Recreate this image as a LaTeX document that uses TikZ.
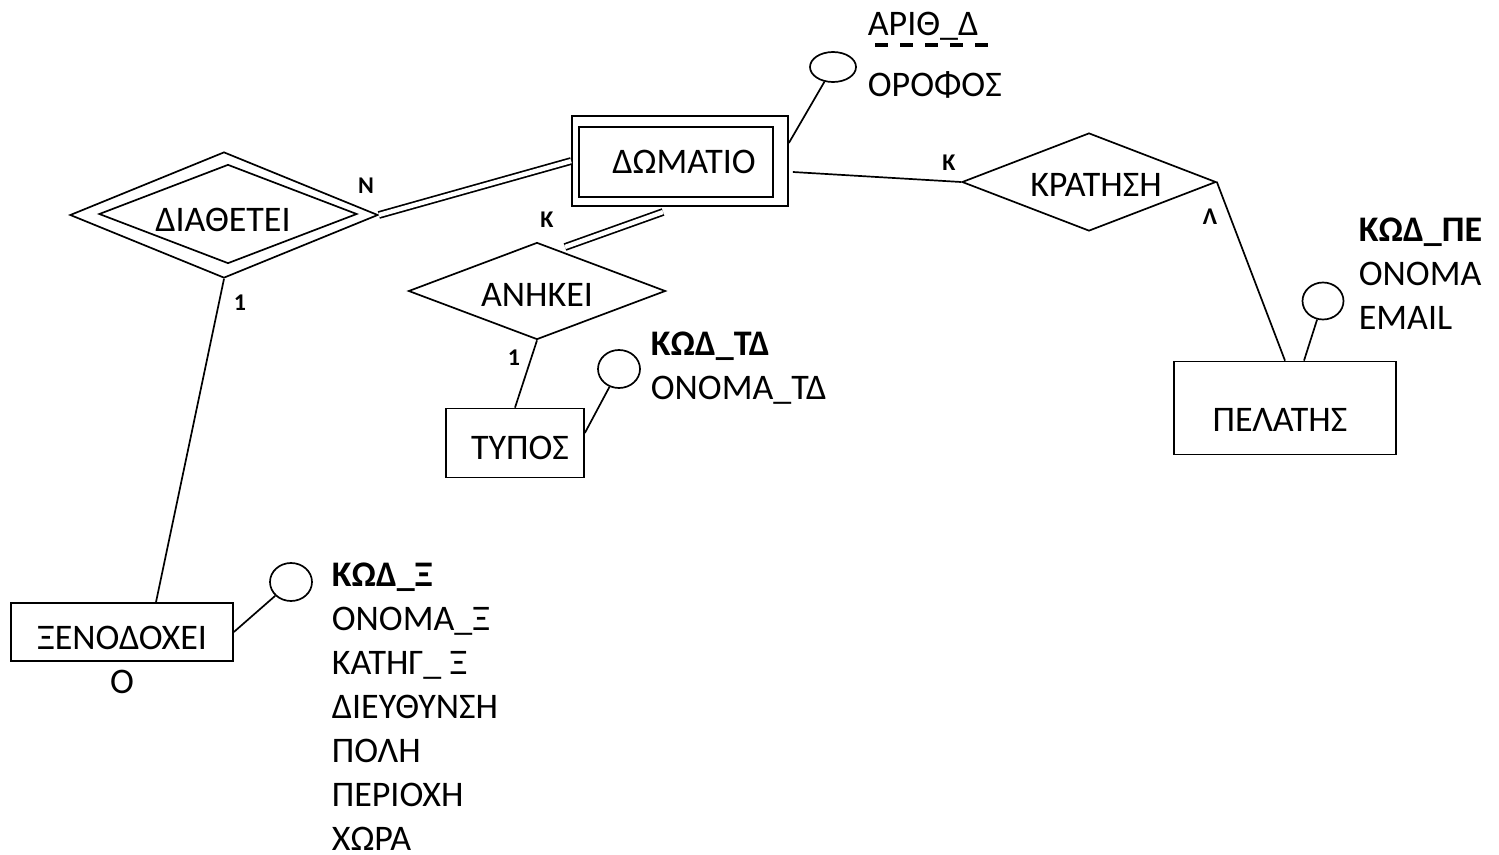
\documentclass[tikz,border=0pt]{standalone}
\usepackage{fontspec}
\setmainfont{Carlito}
\usetikzlibrary{shapes.geometric}

\begin{document}
\begin{tikzpicture}[x=1pt,y=-1pt,line width=1.7pt,
  entity/.style={draw,rectangle,inner sep=0pt},
  relation/.style={draw,diamond,inner sep=0pt},
  attr/.style={draw,ellipse,inner sep=0pt,minimum width=42pt,minimum height=38pt},
  txt/.style={inner sep=0pt,font=\fontsize{36}{44}\selectfont},
  attrlist/.style={txt,align=left,anchor=north west},
  card/.style={inner sep=0pt,font=\fontsize{24}{28}\selectfont\bfseries},
  dbl/.style={double,double distance=4.4pt},
  keyline/.style={line width=3.5pt,dash pattern=on 13pt off 12pt}]
\useasboundingbox (0,0) rectangle (1499,854);
% entities
\node[entity,minimum width=216pt,minimum height=90pt] (domatio) at (680,161) {};
\node[entity,minimum width=194pt,minimum height=70pt] (domatio-in) at (676,162) {};
\node[txt] (domatio-t) at (684,162) {ΔΩΜΑΤΙΟ};
\node[entity,minimum width=138pt,minimum height=69pt] (typos) at (515,443) {};
\node[txt] (typos-t) at (520,448) {ΤΥΠΟΣ};
\node[entity,minimum width=222pt,minimum height=58pt] (xenodoxeio) at (122,632) {};
\node[txt,align=center] (xenodoxeio-t) at (122,660) {ΞΕΝΟΔΟΧΕΙ\\Ο};
\node[entity,minimum width=222pt,minimum height=93pt] (pelatis) at (1285,408) {};
\node[txt] (pelatis-t) at (1280,420) {ΠΕΛΑΤΗΣ};
% relationships
\node[relation,minimum width=308pt,minimum height=126pt] (diathetei) at (224,215) {};
\node[relation,minimum width=258pt,minimum height=99pt] (diathetei-in) at (228,214) {};
\node[txt] (diathetei-t) at (223,220) {ΔΙΑΘΕΤΕΙ};
\node[relation,minimum width=257pt,minimum height=97pt] (anikei) at (537,291) {};
\node[txt] (anikei-t) at (537,295) {ΑΝΗΚΕΙ};
\node[relation,minimum width=254pt,minimum height=98pt] (kratisi) at (1089,182) {};
\node[txt] (kratisi-t) at (1096,185) {ΚΡΑΤΗΣΗ};
% attributes
\node[attr,minimum width=46pt,minimum height=30pt] (domatio-a) at (833,67) {};
\node[attr] (typos-a) at (619,369) {};
\node[attr] (xenodoxeio-a) at (291,582) {};
\node[attr,minimum width=41pt,minimum height=37pt] (pelatis-a) at (1323,301) {};
\node[attrlist] (domatio-k) at (867,11) {ΑΡΙΘ\_Δ};
\draw[keyline] ([shift={(8,34)}]domatio-k.north west) -- ([shift={(131,34)}]domatio-k.north west);
\node[attrlist] (domatio-f) at (867,71) {ΟΡΟΦΟΣ};
\node[attrlist] (typos-k) at (650,331) {\textbf{ΚΩΔ\_ΤΔ}\\ΟΝΟΜΑ\_ΤΔ};
\node[attrlist] (xenodoxeio-k) at (331,562) {\textbf{ΚΩΔ\_Ξ}\\ΟΝΟΜΑ\_Ξ\\ΚΑΤΗΓ\_ Ξ\\ΔΙΕΥΘΥΝΣΗ\\ΠΟΛΗ\\ΠΕΡΙΟΧΗ\\ΧΩΡΑ};
\node[attrlist] (pelatis-k) at (1358,217) {\textbf{ΚΩΔ\_ΠΕ}\\ΟΝΟΜΑ\\EMAIL};
% links
\coordinate (anikei-up) at (565,247);
\coordinate (domatio-dn) at (663,212);
\draw[dbl] (diathetei.east) -- (domatio.west);
\draw[dbl] (anikei-up) -- (domatio-dn);
\draw (diathetei.south) -- ([xshift=34pt]xenodoxeio.north);
\draw (anikei.south) -- (typos.north);
\draw ([shift={(4,11)}]domatio.east) -- (kratisi.west);
\draw (kratisi.east) -- (pelatis.north);
\draw (domatio-a) -- ([yshift=18pt]domatio.east);
\draw (typos-a) -- ([yshift=10pt]typos.east);
\draw (xenodoxeio-a) -- (xenodoxeio.east);
\draw (pelatis-a) -- ([xshift=19pt]pelatis.north);
% cardinalities
\node[card] (c-n) at (366,186) {Ν};
\node[card] (c-k1) at (547,220) {Κ};
\node[card] (c-1a) at (514,358) {1};
\node[card] (c-1b) at (240,303) {1};
\node[card] (c-k2) at (949,163) {Κ};
\node[card] (c-l) at (1210,217) {Λ};
\end{tikzpicture}
\end{document}
